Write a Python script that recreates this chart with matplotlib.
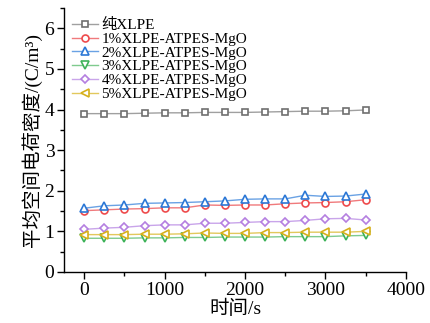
import numpy as np
import matplotlib
matplotlib.use("Agg")
import matplotlib.pyplot as plt
from matplotlib.ticker import MultipleLocator

plt.rcParams["font.family"] = ["Liberation Serif", "Noto Sans CJK SC", "DejaVu Sans"]

# time points (s)
time_s = [0, 250, 500, 750, 1000, 1250, 1500, 1750, 2000, 2250, 2500, 2750, 3000, 3250, 3500]

labels = ["纯XLPE", "1%XLPE-ATPES-MgO", "2%XLPE-ATPES-MgO",
          "3%XLPE-ATPES-MgO", "4%XLPE-ATPES-MgO", "5%XLPE-ATPES-MgO"]

pure_xlpe = [3.90, 3.90, 3.90, 3.91, 3.92, 3.92, 3.93, 3.93, 3.93, 3.94, 3.95, 3.96, 3.96, 3.97, 3.99]
mgo_1 = [1.51, 1.53, 1.55, 1.56, 1.58, 1.58, 1.65, 1.64, 1.65, 1.65, 1.68, 1.70, 1.71, 1.73, 1.78]
mgo_2 = [1.57, 1.63, 1.65, 1.69, 1.70, 1.71, 1.73, 1.75, 1.79, 1.80, 1.80, 1.89, 1.86, 1.87, 1.92]
mgo_3 = [0.83, 0.83, 0.83, 0.84, 0.84, 0.85, 0.85, 0.86, 0.86, 0.86, 0.87, 0.87, 0.87, 0.89, 0.90]
mgo_4 = [1.05, 1.08, 1.10, 1.14, 1.16, 1.16, 1.20, 1.20, 1.22, 1.24, 1.24, 1.27, 1.31, 1.32, 1.28]
mgo_5 = [0.92, 0.92, 0.92, 0.93, 0.93, 0.94, 0.96, 0.95, 0.95, 0.97, 0.97, 0.98, 0.98, 0.98, 1.00]

series = [pure_xlpe, mgo_1, mgo_2, mgo_3, mgo_4, mgo_5]
colors = ["#6f6f6f", "#ee4a4c", "#2c78d6", "#3fb35a", "#b47fe0", "#d6b01c"]
line_colors = ["#a0a0a0", "#f07a7c", "#6aa2e4", "#7fcb8e", "#c9a5ea", "#e2c85c"]
markers = ["s", "o", "^", "v", "D", "<"]
msizes = [4.5, 5, 5.5, 5.5, 4.5, 5.5]

fig = plt.figure(figsize=(4.3, 3.23), dpi=100)
ax = fig.add_axes([0.149, 0.158, 0.795, 0.817])

for vals, lab, c, lc, m, ms in zip(series, labels, colors, line_colors, markers, msizes):
    ax.plot(time_s, vals, color=lc, lw=1.0, marker=m, markersize=ms,
            markerfacecolor="white", markeredgecolor=c, markeredgewidth=1.2,
            label=lab)

ax.set_xlim(-250, 4000)
ax.set_ylim(0, 6.5)
ax.xaxis.set_major_locator(MultipleLocator(1000))
ax.xaxis.set_minor_locator(MultipleLocator(500))
ax.yaxis.set_major_locator(MultipleLocator(1))
ax.yaxis.set_minor_locator(MultipleLocator(0.5))
ax.tick_params(which="major", direction="out", length=5, width=1, labelsize=14, pad=2)
ax.tick_params(which="minor", direction="out", length=3, width=1)
for s in ["top", "right"]:
    ax.spines[s].set_visible(False)
for s in ["left", "bottom"]:
    ax.spines[s].set_linewidth(1)

ax.set_xlabel("时间/s", fontsize=14, labelpad=1)
ax.set_ylabel("平均空间电荷密度/(C/m³)", fontsize=14, labelpad=2)

ax.legend(loc="upper left", bbox_to_anchor=(0.0, 0.99), frameon=False, fontsize=11,
          handlelength=1.75, handletextpad=0.2, labelspacing=0.0, borderaxespad=0.1)

fig.savefig("out.png", dpi=100)
